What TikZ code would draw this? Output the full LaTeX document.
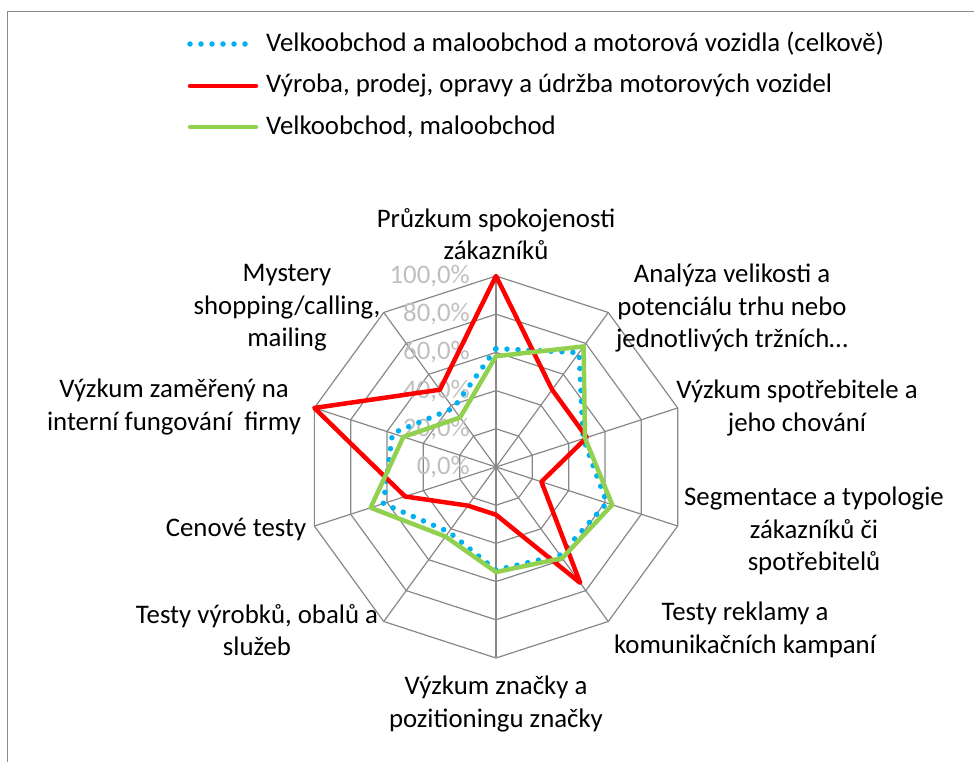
\documentclass[tikz,border=0pt]{standalone}
\usepackage{fontspec}
\setmainfont{Carlito}
\definecolor{gridgray}{HTML}{888888}
\definecolor{framegray}{HTML}{8C8C8C}
\definecolor{pctgray}{HTML}{BFBFBF}
\definecolor{serred}{HTML}{FF0000}
\definecolor{sergreen}{HTML}{92D050}
\definecolor{serblue}{HTML}{00B0F0}
\tikzset{
  gridline/.style={draw=gridgray, line width=1.2pt},
  lbl/.style={align=center, inner sep=0pt, font={\fontsize{26.8}{32.5}\selectfont}},
  pct/.style={anchor=east, inner sep=0pt, text=pctgray, font={\fontsize{26.8}{32}\selectfont}},
  legtext/.style={anchor=west, inner sep=0pt, font={\fontsize{26.8}{32}\selectfont}},
  redline/.style={draw=serred, line width=4.5pt, line join=round},
  greenline/.style={draw=sergreen, line width=4.5pt, line join=round},
  bluedots/.style={draw=serblue, line width=5.5pt, line cap=round, dash pattern=on 0pt off 11pt},
}
\begin{document}
\begin{tikzpicture}[x=1pt, y=1pt]
\useasboundingbox (0,0) rectangle (974,762);
% chart area frame
\draw[framegray, line width=1pt] (7,0) -- (7,750) -- (974,750);

% legend
\coordinate (lgA1) at (190,718); \coordinate (lgA2) at (256,718);
\coordinate (lgB1) at (190,676); \coordinate (lgB2) at (256,676);
\coordinate (lgC1) at (190,635); \coordinate (lgC2) at (256,635);
\draw[bluedots] (lgA1) -- (lgA2);
\draw[redline, line cap=round] (lgB1) -- (lgB2);
\draw[greenline, line cap=round] (lgC1) -- (lgC2);
\node[legtext] (legA) at (266,718) {Velkoobchod a maloobchod a motorová vozidla (celkově)};
\node[legtext] (legB) at (266,676) {Výroba, prodej, opravy a údržba motorových vozidel};
\node[legtext] (legC) at (266,635) {Velkoobchod, maloobchod};

\begin{scope}[shift={(496,295)}]
  % rings
  \foreach \k in {1,...,5}
    \draw[gridline] (90:{38.2*\k}) \foreach \i in {1,...,9} { -- ({90-36*\i}:{38.2*\k}) } -- cycle;
  % spokes
  \foreach \i in {0,...,9}
    \draw[gridline] (0,0) -- ({90-36*\i}:191);
  % axis values
  \foreach \k/\t in {0/{0,0\%},1/{20,0\%},2/{40,0\%},3/{60,0\%},4/{80,0\%},5/{100,0\%}}
    \node[pct] (pct\k) at (-26,{38.2*\k}) {\t};

  % series points
  \foreach \v [count=\i from 0] in {62,74,48,61,57,54,42,62,57,38}
    \coordinate (b\i) at ({90-36*\i}:{1.91*\v});
  \foreach \v [count=\i from 0] in {100,50,50,25,75,25,25,50,100,50}
    \coordinate (r\i) at ({90-36*\i}:{1.91*\v});
  \foreach \v [count=\i from 0] in {58,78,49,64,59,55,45,69,51,32}
    \coordinate (g\i) at ({90-36*\i}:{1.91*\v});

  \draw[bluedots] (b0) -- (b1) -- (b2) -- (b3) -- (b4) -- (b5) -- (b6) -- (b7) -- (b8) -- (b9) -- cycle;
  \draw[redline] (r0) -- (r1) -- (r2) -- (r3) -- (r4) -- (r5) -- (r6) -- (r7) -- (r8) -- (r9) -- cycle;
  \draw[greenline] (g0) -- (g1) -- (g2) -- (g3) -- (g4) -- (g5) -- (g6) -- (g7) -- (g8) -- (g9) -- cycle;

  % category labels
  \node[lbl] (c0) at (0,233) {Průzkum spokojenosti\\zákazníků};
  \node[lbl] (c1) at (236,159) {Analýza velikosti a\\potenciálu trhu nebo\\jednotlivých tržních…};
  \node[lbl] (c2) at (301,59) {Výzkum spotřebitele a\\jeho chování};
  \node[lbl] (c3) at (318,-64) {Segmentace a typologie\\zákazníků či\\spotřebitelů};
  \node[lbl] (c4) at (249,-163) {Testy reklamy a\\komunikačních kampaní};
  \node[lbl] (c5) at (0,-237) {Výzkum značky a\\pozitioningu značky};
  \node[lbl] (c6) at (-239,-163) {Testy výrobků, obalů a\\služeb};
  \node[lbl] (c7) at (-260,-63) {Cenové testy};
  \node[lbl] (c8) at (-322,60) {Výzkum zaměřený na\\interní fungování\ \ firmy};
  \node[lbl] (c9) at (-209,159) {Mystery\\shopping/calling,\\mailing};
\end{scope}
\end{tikzpicture}
\end{document}
